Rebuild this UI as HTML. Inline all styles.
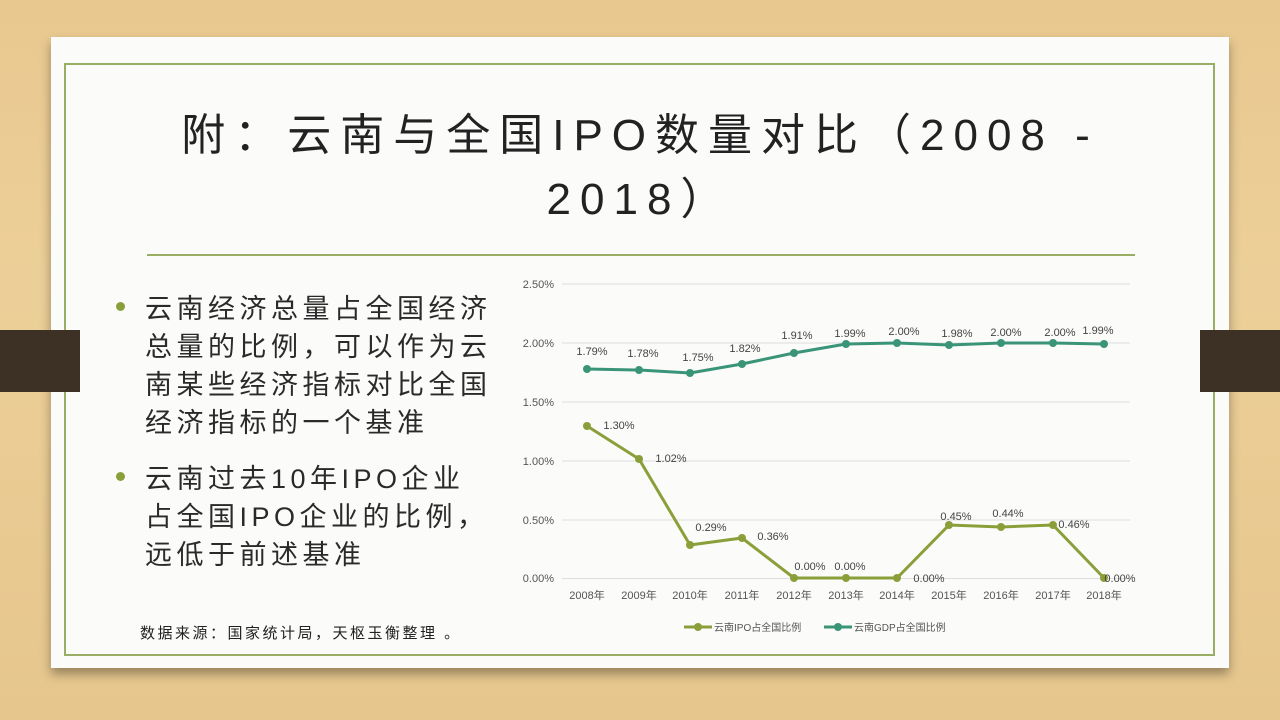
<!DOCTYPE html>
<html><head><meta charset="utf-8"><style>
body{margin:0;width:1280px;height:720px;overflow:hidden;background:linear-gradient(180deg,#e9c88f 0%,#eccf98 40%,#e6c68c 100%);font-family:"Liberation Sans","Noto Sans CJK SC",sans-serif;position:relative}
.card{position:absolute;left:51px;top:37px;width:1178px;height:631px;background:#fbfbf9;box-shadow:0 6px 10px rgba(0,0,0,.35)}
.inner{position:absolute;left:64px;top:63px;width:1151px;height:593px;border:2px solid #9aad64;box-sizing:border-box}
.tab{position:absolute;top:330px;height:62px;background:#3d3024}
.t{position:absolute;left:100px;width:1080px;text-align:center;font-size:44px;color:#222;line-height:64px;letter-spacing:9px}
.b{position:absolute;left:145px;font-size:27px;color:#2a2a2a;line-height:38px;letter-spacing:4.5px}
.dot{position:absolute;left:116px;width:9px;height:9px;border-radius:50%;background:#8a9f3a}
</style></head><body>
<div class="card"></div>
<div class="inner"></div>
<div class="tab" style="left:0;width:80px"></div>
<div class="tab" style="left:1200px;width:80px"></div>
<div class="t" style="top:104px">附：云南与全国IPO数量对比（2008 -</div>
<div class="t" style="top:168px">2018）</div>
<div style="position:absolute;left:147px;top:254px;width:988px;height:2px;background:#9aad64"></div>
<div class="dot" style="top:302px"></div>
<div class="b" style="top:290px">云南经济总量占全国经济<br>总量的比例，可以作为云<br>南某些经济指标对比全国<br>经济指标的一个基准</div>
<div class="dot" style="top:472px"></div>
<div class="b" style="top:460px">云南过去10年IPO企业<br>占全国IPO企业的比例，<br>远低于前述基准</div>
<div style="position:absolute;left:140px;top:622px;font-size:15px;color:#222;letter-spacing:2.5px">数据来源：国家统计局，天枢玉衡整理 。</div>
<svg style="position:absolute;left:0;top:0" width="1280" height="720" font-family="Liberation Sans,Noto Sans CJK SC,sans-serif" font-size="11" fill="#555">
<g stroke="#dedede" stroke-width="1">
<line x1="562" x2="1130" y1="284" y2="284"/><line x1="562" x2="1130" y1="343" y2="343"/><line x1="562" x2="1130" y1="402" y2="402"/><line x1="562" x2="1130" y1="461" y2="461"/><line x1="562" x2="1130" y1="520" y2="520"/><line x1="562" x2="1130" y1="578.5" y2="578.5"/>
</g>
<g text-anchor="end"><text x="554" y="288">2.50%</text><text x="554" y="347">2.00%</text><text x="554" y="406">1.50%</text><text x="554" y="465">1.00%</text><text x="554" y="524">0.50%</text><text x="554" y="582">0.00%</text></g>
<g text-anchor="middle"><text x="587" y="599">2008年</text><text x="639" y="599">2009年</text><text x="690" y="599">2010年</text><text x="742" y="599">2011年</text><text x="794" y="599">2012年</text><text x="846" y="599">2013年</text><text x="897" y="599">2014年</text><text x="949" y="599">2015年</text><text x="1001" y="599">2016年</text><text x="1053" y="599">2017年</text><text x="1104" y="599">2018年</text></g>
<polyline fill="none" stroke="#3a9478" stroke-width="3" points="587,369 639,370 690,373 742,364 794,353 846,344 897,343 949,345 1001,343 1053,343 1104,344"/>
<g fill="#3a9478"><circle cx="587" cy="369" r="4"/><circle cx="639" cy="370" r="4"/><circle cx="690" cy="373" r="4"/><circle cx="742" cy="364" r="4"/><circle cx="794" cy="353" r="4"/><circle cx="846" cy="344" r="4"/><circle cx="897" cy="343" r="4"/><circle cx="949" cy="345" r="4"/><circle cx="1001" cy="343" r="4"/><circle cx="1053" cy="343" r="4"/><circle cx="1104" cy="344" r="4"/></g>
<polyline fill="none" stroke="#8a9f3a" stroke-width="3" points="587,426 639,459 690,545 742,538 794,578 846,578 897,578 949,525 1001,527 1053,525 1104,578"/>
<g fill="#8a9f3a"><circle cx="587" cy="426" r="4"/><circle cx="639" cy="459" r="4"/><circle cx="690" cy="545" r="4"/><circle cx="742" cy="538" r="4"/><circle cx="794" cy="578" r="4"/><circle cx="846" cy="578" r="4"/><circle cx="897" cy="578" r="4"/><circle cx="949" cy="525" r="4"/><circle cx="1001" cy="527" r="4"/><circle cx="1053" cy="525" r="4"/><circle cx="1104" cy="578" r="4"/></g>
<g fill="#444" text-anchor="middle"><text x="592" y="355">1.79%</text><text x="643" y="357">1.78%</text><text x="698" y="361">1.75%</text><text x="745" y="352">1.82%</text><text x="797" y="339">1.91%</text><text x="850" y="337">1.99%</text><text x="904" y="335">2.00%</text><text x="957" y="337">1.98%</text><text x="1006" y="336">2.00%</text><text x="1060" y="336">2.00%</text><text x="1098" y="334">1.99%</text>
<text x="619" y="429">1.30%</text><text x="671" y="462">1.02%</text><text x="711" y="531">0.29%</text><text x="773" y="540">0.36%</text><text x="810" y="570">0.00%</text><text x="850" y="570">0.00%</text><text x="929" y="582">0.00%</text><text x="956" y="520">0.45%</text><text x="1008" y="517">0.44%</text><text x="1074" y="528">0.46%</text><text x="1120" y="582">0.00%</text></g>
<line x1="684" x2="712" y1="627" y2="627" stroke="#8a9f3a" stroke-width="3"/><circle cx="698" cy="627" r="4" fill="#8a9f3a"/>
<text x="714" y="631" font-size="10">云南IPO占全国比例</text>
<line x1="824" x2="852" y1="627" y2="627" stroke="#3a9478" stroke-width="3"/><circle cx="838" cy="627" r="4" fill="#3a9478"/>
<text x="854" y="631" font-size="10">云南GDP占全国比例</text>
</svg>
</body></html>
